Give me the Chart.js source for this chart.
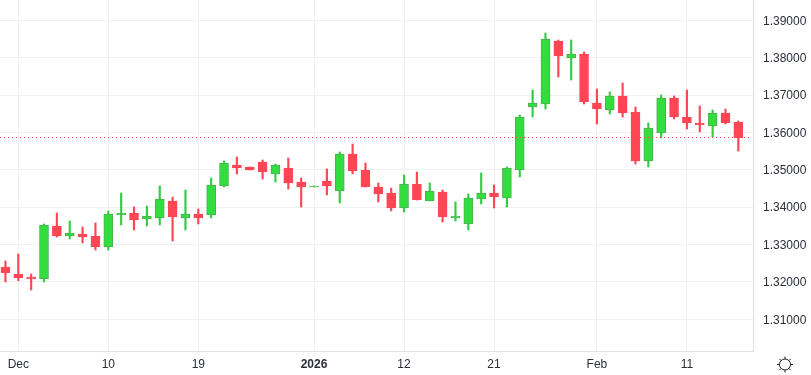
<!DOCTYPE html>
<html>
<head>
<meta charset="utf-8">
<title>Candles</title>
<script src="https://cdn.jsdelivr.net/npm/chart.js@4"></script>
<style>
    html, body { margin: 0; padding: 0; background: #fff; overflow: hidden; }
    canvas { display: block; }
</style>
</head>
<body>
<canvas id="chart" width="811" height="375"></canvas>
<script>
var opens = [1.32390,1.32211,1.32131,1.32085,1.33495,1.33228,1.33281,1.33228,1.32933,1.33790,
    1.33843,1.33683,1.33709,1.34164,1.33709,1.33816,1.33790,1.34566,1.35128,1.35074,
    1.35208,1.34887,1.35047,1.34673,1.34539,1.34699,1.34432,1.35422,1.34994,1.34539,
    1.34378,1.33977,1.34619,1.34164,1.34405,1.33709,1.33549,1.34218,1.34378,1.34245,
    1.34994,1.36680,1.36760,1.38446,1.37991,1.38098,1.36787,1.36599,1.36974,1.36546,
    1.35235,1.35984,1.36921,1.36412,1.36252,1.36171,1.36519,1.36278];
var highs = [1.32559,1.32746,1.32211,1.33549,1.33843,1.33629,1.33469,1.33576,1.33897,1.34378,
    1.34004,1.34030,1.34566,1.34271,1.34459,1.33950,1.34780,1.35235,1.35342,1.35074,
    1.35261,1.35154,1.35315,1.34780,1.34566,1.35021,1.35475,1.35690,1.35181,1.34646,
    1.34512,1.34860,1.34940,1.34646,1.34459,1.34138,1.34352,1.34914,1.34592,1.35074,
    1.36466,1.37135,1.38660,1.38473,1.38473,1.38152,1.37161,1.37081,1.37322,1.36680,
    1.36252,1.37001,1.36974,1.37135,1.36706,1.36599,1.36626,1.36305];
var lows = [1.31997,1.32031,1.31783,1.31997,1.33201,1.33147,1.33040,1.32853,1.32853,1.33522,
    1.33388,1.33495,1.33522,1.33094,1.33388,1.33549,1.33709,1.34539,1.34887,1.34994,
    1.34753,1.34673,1.34485,1.34004,1.34539,1.34325,1.34111,1.34887,1.34539,1.34138,
    1.33897,1.33870,1.34191,1.34164,1.33602,1.33629,1.33388,1.34084,1.33977,1.34004,
    1.34807,1.36412,1.36626,1.37483,1.37402,1.36760,1.36225,1.36492,1.36412,1.35154,
    1.35074,1.35850,1.36359,1.36091,1.36011,1.35877,1.36225,1.35502];
var closes = [1.32246,1.32104,1.32077,1.33522,1.33228,1.33308,1.33201,1.32933,1.33816,1.33843,
    1.33656,1.33763,1.34218,1.33736,1.33816,1.33709,1.34592,1.35181,1.35047,1.34994,
    1.34940,1.35128,1.34646,1.34539,1.34566,1.34566,1.35422,1.34967,1.34539,1.34352,
    1.33977,1.34619,1.34191,1.34432,1.33736,1.33763,1.34245,1.34378,1.34271,1.35047,
    1.36412,1.36787,1.38499,1.38044,1.38098,1.36814,1.36626,1.36974,1.36519,1.35235,
    1.36118,1.36921,1.36412,1.36252,1.36198,1.36519,1.36252,1.35850];

var dateTicks = [1, 8, 15, 24, 31, 38, 46, 53];
var dateLabels = ["Dec", "10", "19", "2026", "12", "21", "Feb", "11"];
var priceTicks = [1.31, 1.32, 1.33, 1.34, 1.35, 1.36, 1.37, 1.38, 1.39];
var lastPrice = 1.358634;

var UP = "#32de3e";
var UP_EDGE = "#4caf50";
var UP_WICK = "#32cd45";
var DOWN = "#ff4655";
var GRID = "#f1f1f1";
var AXIS = "#e0e0e0";
var TEXT = "#2a2e39";

var wicks = [];
var bodies = [];
opens.forEach(function(open, i){
    wicks.push({x: i, y: [lows[i], highs[i]]});
    bodies.push({x: i, y: [open, closes[i]]});
});

function isUp(ctx){
    return closes[ctx.dataIndex] >= opens[ctx.dataIndex];
}

// keep the plot flush with the canvas edge
function noPadding(scale){
    scale.paddingTop = 0;
    scale.paddingBottom = 0;
    scale.paddingLeft = 0;
    scale.paddingRight = 0;
}

// sun icon in the corner under the price axis
var sunIcon = {
    id: "sunIcon",
    afterDraw: function(chart){
        var c = chart.ctx;
        var cx = chart.chartArea.right + 32;
        var cy = chart.chartArea.bottom + 13.5;
        c.save();
        c.strokeStyle = "#222";
        c.lineWidth = 1;
        c.beginPath();
        c.arc(cx, cy, 5.5, 0, Math.PI * 2);
        c.stroke();
        for(var a = 0; a < 8; a++){
            var ang = a * Math.PI / 4;
            c.beginPath();
            c.moveTo(cx + Math.cos(ang) * 5.5, cy + Math.sin(ang) * 5.5);
            c.lineTo(cx + Math.cos(ang) * 8, cy + Math.sin(ang) * 8);
            c.stroke();
        }
        c.restore();
    }
};

var chart = new Chart(document.getElementById("chart").getContext("2d"), {
    type: "bar",
    data: {
        datasets: [
            {
                type: "line",
                order: 0,
                data: [{x: -0.423, y: lastPrice}, {x: 57.99, y: lastPrice}],
                borderColor: DOWN,
                borderWidth: 1,
                borderDash: [1, 3],
                pointRadius: 0
            },
            {
                order: 1,
                grouped: false,
                data: bodies,
                barThickness: 9,
                borderWidth: 1,
                borderSkipped: false,
                backgroundColor: function(ctx){ return isUp(ctx) ? UP : DOWN; },
                borderColor: function(ctx){ return isUp(ctx) ? UP_EDGE : DOWN; }
            },
            {
                order: 2,
                grouped: false,
                data: wicks,
                barThickness: 1.5,
                borderWidth: 0,
                backgroundColor: function(ctx){ return isUp(ctx) ? UP_WICK : DOWN; }
            }
        ]
    },
    options: {
        responsive: false,
        animation: false,
        events: [],
        layout: {padding: 0},
        plugins: {legend: {display: false}, tooltip: {enabled: false}},
        scales: {
            x: {
                type: "linear",
                offset: false,
                min: -0.423,
                max: 58.14,
                afterBuildTicks: function(scale){
                    scale.ticks = dateTicks.map(function(v){ return {value: v}; });
                },
                afterFit: function(scale){
                    scale.height = 24;
                    noPadding(scale);
                },
                grid: {color: GRID, drawTicks: false, offset: false},
                border: {color: AXIS},
                ticks: {
                    autoSkip: false,
                    maxRotation: 0,
                    padding: 6,
                    color: TEXT,
                    font: function(ctx){
                        return {family: "Liberation Sans", size: 12, weight: ctx.index == 3 ? "bold" : "normal"};
                    },
                    callback: function(value){
                        return dateLabels[dateTicks.indexOf(value)];
                    }
                }
            },
            y: {
                position: "right",
                min: 1.30150,
                max: 1.39543,
                afterBuildTicks: function(scale){
                    scale.ticks = priceTicks.map(function(v){ return {value: v}; });
                },
                afterFit: function(scale){
                    scale.width = 58;
                    noPadding(scale);
                },
                grid: {color: GRID, drawTicks: false},
                border: {color: AXIS},
                ticks: {
                    padding: 10,
                    labelOffset: 1,
                    color: TEXT,
                    font: {family: "Liberation Sans", size: 12},
                    callback: function(value){ return value.toFixed(5); }
                }
            }
        }
    },
    plugins: [sunIcon]
});
</script>
</body>
</html>
